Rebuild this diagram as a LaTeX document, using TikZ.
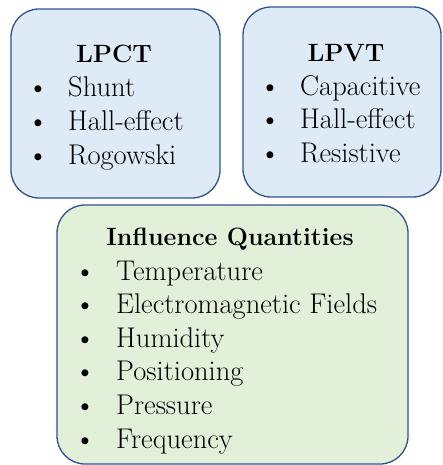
\documentclass[tikz,border=0pt]{standalone}
\definecolor{boxblue}{HTML}{DEEBF7}
\definecolor{boxgreen}{HTML}{E2F0D9}
\definecolor{edgeblue}{HTML}{2F528F}

\begin{document}
\begin{tikzpicture}[x=1pt, y=-1pt,
  box/.style={draw=edgeblue, line width=1.3pt, rounded corners=28pt, inner sep=0pt},
  head/.style={anchor=base, inner sep=0pt, font=\fontsize{25}{34}\selectfont\bfseries},
  item/.style={anchor=base west, inner sep=0pt, font=\fontsize{28.5}{34}\selectfont},
  dot/.style={anchor=base, inner sep=0pt, font=\fontsize{31}{34}\selectfont}]
\useasboundingbox (0,0) rectangle (442,465);

% the three boxes
\node[box, fill=boxblue, minimum width=209pt, minimum height=189pt] (pctbox) at (115.5,103.5) {};
\node[box, fill=boxblue, minimum width=198pt, minimum height=190pt] (pvtbox) at (342,102) {};
\node[box, fill=boxgreen, minimum width=351pt, minimum height=259pt] (inflbox) at (232.5,334.5) {};

% LPCT
\node[head] (pcthead) at (114,63) {LPCT};
\foreach \txt [count=\i] in {Shunt, Hall-effect, Rogowski} {
  \node[dot] (pctdot\i) at (38,{64.3+33.7*\i}) {\textbullet};
  \node[item] (pct\i) at (68,{63.3+33.7*\i}) {\txt};
}

% LPVT
\node[head] (pvthead) at (346,62) {LPVT};
\foreach \txt [count=\i] in {Capacitive, Hall-effect, Resistive} {
  \node[dot] (pvtdot\i) at (270,{62.8+33.5*\i}) {\textbullet};
  \node[item] (pvt\i) at (300,{61.8+33.5*\i}) {\txt};
}

% influence quantities
\node[head] (inflhead) at (230,245) {Influence Quantities};
\foreach \txt [count=\i] in {Temperature, Electromagnetic Fields, Humidity, Positioning, Pressure, Frequency} {
  \node[dot] (infldot\i) at (85,{247.4+33.6*\i}) {\textbullet};
  \node[item] (infl\i) at (116,{246.4+33.6*\i}) {\txt};
}
\end{tikzpicture}
\end{document}
